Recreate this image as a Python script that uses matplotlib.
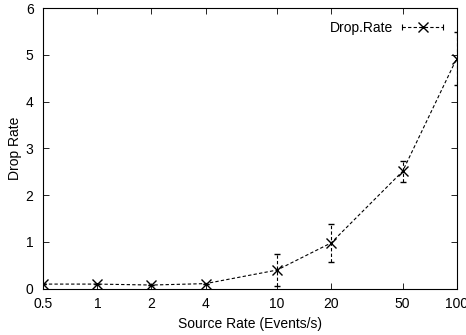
import matplotlib
matplotlib.use('Agg')
import matplotlib.pyplot as plt
from matplotlib.lines import Line2D
from matplotlib.legend_handler import HandlerLine2D, HandlerTuple

plt.rcParams['font.family'] = ['Liberation Sans', 'DejaVu Sans']
plt.rcParams['font.size'] = 10

## Daten
rate = [0.5, 1, 2, 4, 10, 20, 50, 100]
drop = [0.10, 0.10, 0.08, 0.11, 0.40, 0.98, 2.51, 4.92]
err = [0.0, 0.0, 0.0, 0.0, 0.34, 0.41, 0.23, 0.57]
xticks = [0.5, 1, 2, 4, 10, 20, 50, 100]
xlabels = ['0.5', '1', '2', '4', '10', '20', '50', '100']

dash = (0, (3, 2))

fig = plt.figure(figsize=(4.66, 3.35), dpi=100)
ax = fig.add_axes([0.093, 0.138, 0.887, 0.838])

eb = ax.errorbar(rate, drop, yerr=err, color='black', linestyle=dash,
                 linewidth=0.8, marker='x', markersize=7, markeredgewidth=1.0,
                 capsize=2, elinewidth=0.8, capthick=0.8)
for lc in eb[2]:
    lc.set_linestyle(dash)

ax.set_xscale('log')
ax.set_xlim(0.5, 100)
ax.set_ylim(0, 6)
ax.set_xticks(xticks)
ax.set_xticklabels(xlabels)
ax.minorticks_off()
ax.set_yticks(range(7))
ax.tick_params(direction='in', top=True, right=True, length=4, width=0.6)
ax.tick_params(axis='x', pad=6)
ax.tick_params(axis='y', pad=7)
for s in ax.spines.values():
    s.set_linewidth(0.8)

ax.set_xlabel('Source Rate (Events/s)', labelpad=4)
ax.set_ylabel('Drop Rate', labelpad=3)

# Legende wie bei gnuplot: Linie mit Kreuz, kleine Striche an den Enden
main = Line2D([], [], color='black', linestyle=dash, linewidth=0.8,
              marker='x', markersize=7, markeredgewidth=1.0)
caps = Line2D([], [], color='black', linestyle='none', marker='|',
              markersize=4, markeredgewidth=0.8)
ax.legend([(main, caps)], ['Drop.Rate'], loc='upper right', frameon=False,
          markerfirst=False, handlelength=3, borderaxespad=0.65,
          borderpad=0.3, handletextpad=0.6,
          handler_map={caps: HandlerLine2D(numpoints=2, marker_pad=0),
                       tuple: HandlerTuple(ndivide=1, pad=0)})

plt.savefig('out.png', dpi=100)
